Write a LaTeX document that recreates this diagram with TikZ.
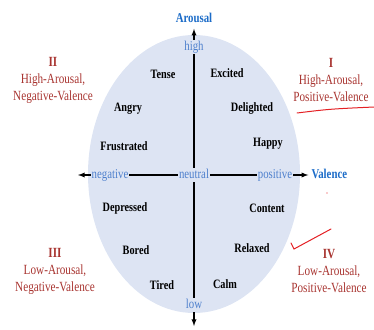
\documentclass[tikz,border=0pt]{standalone}
\usepackage{fontspec}
\setmainfont[FakeStretch=0.8]{Liberation Serif}
\usetikzlibrary{arrows,positioning}
\definecolor{ellfill}{RGB}{221,228,243}
\definecolor{quadred}{RGB}{168,52,48}
\definecolor{axisblue}{RGB}{78,128,205}
\definecolor{titleblue}{RGB}{28,108,200}
\definecolor{penred}{RGB}{228,32,36}

\begin{document}
\begin{tikzpicture}[
  x=1pt, y=-1pt,
  emo/.style    = {font=\fontsize{12.8}{15}\selectfont\bfseries, inner sep=1pt},
  axlab/.style  = {font=\fontsize{13.5}{16}\selectfont, text=axisblue,
                   inner sep=1pt, text height=9pt, text depth=3pt},
  axname/.style = {font=\fontsize{13.5}{16}\selectfont\bfseries, text=titleblue,
                   inner sep=3pt, text height=9pt, text depth=3pt},
  quad/.style   = {font=\fontsize{14}{17}\selectfont, text=quadred, align=center},
  axline/.style = {line width=1.3pt},
  arr/.style    = {axline, ->, >=latex},
  pen/.style    = {penred, line width=1pt, line cap=round},
]
\useasboundingbox (0,0) rectangle (374,329);
\fill[ellfill] (194,174) ellipse [x radius=106, y radius=139];

% axis labels
\node[axlab] (neutral)  at (194,175) {neutral};
\node[axlab] (high)     at (194,47)  {high};
\node[axlab] (low)      at (194,305) {low};
\node[axlab] (negative) at (110,175) {negative};
\node[axlab] (positive) at (275,175) {positive};
\node[axname, above=11pt of high]    (arousal) {Arousal};
\node[axname, right=15pt of positive] (valence) {Valence};
\coordinate (lefttip) at (78,175);
\coordinate (downtip) at (194,326);

% axes
\draw[arr]    (high)     -- (arousal);
\draw[axline] (high)     -- (neutral);
\draw[axline] (neutral)  -- (low);
\draw[arr]    (low)      -- (downtip);
\draw[axline] (neutral)  -- (negative);
\draw[arr]    (negative) -- (lefttip);
\draw[axline] (neutral)  -- (positive);
\draw[arr]    (positive) -- (valence);

% emotions
\node[emo] (tense)      at (163,74)  {Tense};
\node[emo] (excited)    at (227,73)  {Excited};
\node[emo] (angry)      at (128,109) {Angry};
\node[emo] (delighted)  at (252,108) {Delighted};
\node[emo] (frustrated) at (124,146) {Frustrated};
\node[emo] (happy)      at (268,144) {Happy};
\node[emo] (depressed)  at (125,208) {Depressed};
\node[emo] (content)    at (267,208) {Content};
\node[emo] (bored)      at (136,250) {Bored};
\node[emo] (relaxed)    at (252,248) {Relaxed};
\node[emo] (tired)      at (162,285) {Tired};
\node[emo] (calm)       at (225,284) {Calm};

% quadrants
\node[quad] (q2) at (53,80)   {\textbf{II}\\High-Arousal,\\Negative-Valence};
\node[quad] (q1) at (331,80)  {\textbf{I}\\High-Arousal,\\Positive-Valence};
\node[quad] (q3) at (55,271)  {\textbf{III}\\Low-Arousal,\\Negative-Valence};
\node[quad] (q4) at (329,271) {\textbf{IV}\\Low-Arousal,\\Positive-Valence};

% pen marks
\draw[pen] (297,113) .. controls (330,109) .. (374,107);
\draw[pen] (291,243) -- (294,249) -- (331,229);
\fill[penred] (327,193) circle (0.7);
\end{tikzpicture}
\end{document}
